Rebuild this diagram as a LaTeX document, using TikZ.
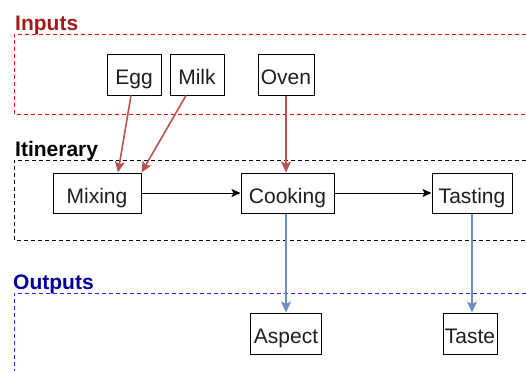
\documentclass[tikz,border=0pt]{standalone}
\usepackage{fontspec}
\setmainfont{Liberation Sans}
\usetikzlibrary{arrows.meta}
\definecolor{inred}{RGB}{160,28,28}
\definecolor{outblue}{RGB}{0,0,155}
\definecolor{edgered}{RGB}{184,84,80}
\definecolor{edgeblue}{RGB}{108,142,191}
\definecolor{textgray}{RGB}{30,30,30}
\tikzset{
  stepbox/.style={draw=black, line width=1pt, fill=white, inner sep=0pt,
    text=textgray, font=\fontsize{21}{24}\selectfont,
    text height=20pt, text depth=0pt},
  lanelabel/.style={anchor=base west, inner sep=0pt, font=\fontsize{21}{24}\selectfont\bfseries},
  lane/.style={dash pattern=on 4pt off 3pt, line width=0.9pt},
  flowarrow/.style={-{Stealth[length=9pt,width=8pt,inset=2pt]}, line width=1pt, black},
  redarrow/.style={-{Stealth[length=11pt,width=10pt,inset=2.5pt]}, line width=1.6pt, edgered},
  bluearrow/.style={-{Stealth[length=11pt,width=10pt,inset=2.5pt]}, line width=1.6pt, edgeblue},
}
\begin{document}
\begin{tikzpicture}[x=1pt,y=-1pt]
  \useasboundingbox (0,0) rectangle (526,370);
  \clip (0,0) rectangle (526,370);

  % swimlanes, open on the right
  \draw[lane, red] (540,34) -- (14,34) -- (14,114) -- (540,114);
  \draw[lane, black] (540,160) -- (14,160) -- (14,240) -- (540,240);
  \draw[lane, blue!85!white] (540,293) -- (14,293) -- (14,380);

  \node[lanelabel, text=inred] (lblin) at (15,30) {Inputs};
  \node[lanelabel, text=black] (lblit) at (15,156) {Itinerary};
  \node[lanelabel, text=outblue] (lblout) at (13,289) {Outputs};

  % inputs
  \node[stepbox, minimum width=54pt, minimum height=41pt] (egg)  at (134,74.5) {Egg};
  \node[stepbox, minimum width=54pt, minimum height=41pt] (milk) at (197,74.5) {Milk};
  \node[stepbox, minimum width=56pt, minimum height=41pt] (oven) at (286,74.5) {Oven};

  % itinerary
  \node[stepbox, minimum width=88pt, minimum height=40pt] (mix)   at (97,193) {Mixing};
  \node[stepbox, minimum width=93pt, minimum height=40pt] (cook)  at (287.5,193) {Cooking};
  \node[stepbox, minimum width=80pt, minimum height=40pt] (taste) at (472,193) {Tasting};

  % outputs
  \node[stepbox, minimum width=71pt, minimum height=41pt] (aspect) at (286,333.5) {Aspect};
  \node[stepbox, minimum width=54pt, minimum height=41pt] (tasteout) at (470,333.5) {Taste};

  % connectors
  \draw[redarrow] ([xshift=-3pt]egg.south) -- ([xshift=21pt]mix.north);
  \draw[redarrow] ([xshift=-11pt]milk.south) -- (mix.north east);
  \draw[redarrow] (oven.south) -- (oven.south |- cook.north);
  \draw[flowarrow] (mix.east) -- (cook.west);
  \draw[flowarrow] (cook.east) -- (taste.west);
  \draw[bluearrow] (cook.south -| aspect.north) -- (aspect.north);
  \draw[bluearrow] (taste.south) -- (taste.south |- tasteout.north);
\end{tikzpicture}
\end{document}
